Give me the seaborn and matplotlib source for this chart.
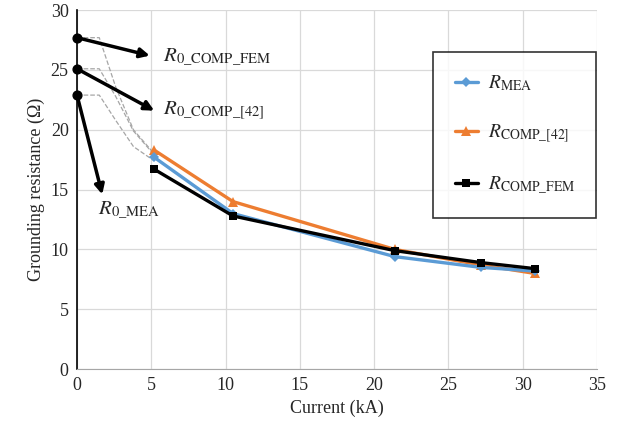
import numpy as np
import pandas as pd
import matplotlib.pyplot as plt
import seaborn as sns

sns.set_style("white")
plt.rcParams['font.family'] = ['Liberation Serif', 'DejaVu Serif']
plt.rcParams['mathtext.fontset'] = 'stix'

current = [5.2, 10.5, 21.4, 27.2, 30.8]
r_mea = [17.7, 13.0, 9.4, 8.5, 8.2]
r_comp42 = [18.3, 14.0, 10.0, 8.7, 8.0]
r_fem = [16.7, 12.8, 9.9, 8.9, 8.4]

r0_values = [22.9, 25.1, 27.7]  # R0_MEA, R0_COMP_[42], R0_COMP_FEM

# dashed guides from R0 points to first measured point
guide_x = [0, 1.5, 2.6, 3.8, 5.2]
guide_mea = [22.9, 22.9, 20.8, 18.6, 17.4]
guide_42 = [25.1, 25.1, 22.8, 19.9, 17.9]
guide_fem = [27.7, 27.7, 23.6, 20.0, 18.0]

df = pd.DataFrame({'I': current, 'MEA': r_mea, 'C42': r_comp42, 'FEM': r_fem})

fig, ax = plt.subplots(figsize=(6.28, 4.41), dpi=100)
fig.subplots_adjust(left=0.1226, right=0.9506, top=0.977, bottom=0.163)

for gy in [guide_mea, guide_42, guide_fem]:
    ax.plot(guide_x, gy, color='#a6a6a6', ls='--', lw=0.9, zorder=2)

sns.lineplot(data=df, x='I', y='MEA', ax=ax, color='#5b9bd5', marker='D', markersize=5,
             markeredgewidth=0, lw=2.4, label=r'$R_{\mathrm{MEA}}$', zorder=4)
sns.lineplot(data=df, x='I', y='C42', ax=ax, color='#ed7d31', marker='^', markersize=7,
             markeredgewidth=0, lw=2.4, label=r'$R_{\mathrm{COMP\_[42]}}$', zorder=3)
sns.lineplot(data=df, x='I', y='FEM', ax=ax, color='black', marker='s', markersize=6,
             markeredgewidth=0, lw=2.4, label=r'$R_{\mathrm{COMP\_FEM}}$', zorder=5)

ax.scatter([0, 0, 0], r0_values, color='black', s=40, zorder=6, clip_on=False)

arrow = dict(arrowstyle='-|>', color='black', lw=2.5, mutation_scale=14, shrinkA=0, shrinkB=0)
ax.annotate('', xy=(4.9, 26.2), xytext=(0, 27.7), arrowprops=arrow)
ax.annotate('', xy=(5.2, 21.6), xytext=(0, 25.1), arrowprops=arrow)
ax.annotate('', xy=(1.7, 14.6), xytext=(0, 22.9), arrowprops=arrow)
ax.text(5.8, 26.1, r'$R_{0\_\mathrm{COMP\_FEM}}$', fontsize=15, va='center')
ax.text(5.8, 21.6, r'$R_{0\_\mathrm{COMP\_[42]}}$', fontsize=15, va='center')
ax.text(1.4, 13.3, r'$R_{0\_\mathrm{MEA}}$', fontsize=15, va='center')

ax.set_xlim(0, 35)
ax.set_ylim(0, 30)
ax.set_xticks(range(0, 36, 5))
ax.set_yticks(range(0, 31, 5))
ax.grid(True, color='#d9d9d9', lw=0.9)
ax.tick_params(labelsize=13, length=0, pad=6)
ax.set_xlabel('Current (kA)', fontsize=13)
ax.set_ylabel('Grounding resistance (Ω)', fontsize=13)
for s in ['top', 'right']:
    ax.spines[s].set_visible(False)
ax.spines['left'].set_color('black')
ax.spines['left'].set_linewidth(1.2)
ax.spines['bottom'].set_color('#a6a6a6')

leg = ax.legend(loc='upper left', bbox_to_anchor=(0.685, 0.883), fontsize=14,
                frameon=True, fancybox=False, edgecolor='black', handlelength=1.2,
                labelspacing=1.5, borderpad=1.1, handletextpad=0.5, borderaxespad=0)
leg.get_frame().set_linewidth(1.2)

fig.savefig('out.png', dpi=100)
